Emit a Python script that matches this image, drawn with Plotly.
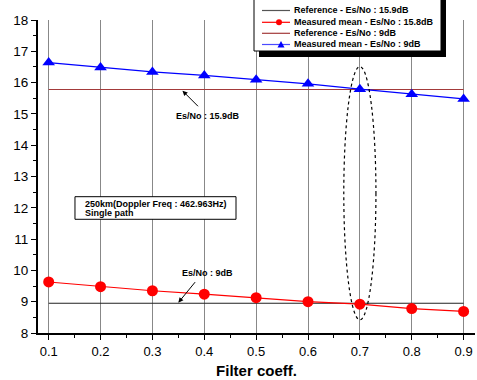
import plotly.graph_objects as go

# ---------------- data ----------------
filter_coeff = [0.1, 0.2, 0.3, 0.4, 0.5, 0.6, 0.7, 0.8, 0.9]
measured_high = [16.64, 16.48, 16.34, 16.23, 16.09, 15.96, 15.79, 15.63, 15.48]  # blue triangles
measured_low = [9.63, 9.48, 9.35, 9.24, 9.13, 9.00, 8.92, 8.78, 8.69]            # red circles
reference_high = [15.78] * len(filter_coeff)   # dark red line
reference_low = [8.95] * len(filter_coeff)     # black line

legend_labels = [
    "Reference - Es/No : 15.9dB",
    "Measured mean - Es/No : 15.8dB",
    "Reference - Es/No : 9dB",
    "Measured mean - Es/No : 9dB",
]

# ---------------- geometry ----------------
W, H = 477, 380
ML, MR, MT, MB = 38, 2, 20, 47
PW, PH = W - ML - MR, H - MT - MB
XR = [0.0794, 0.922]
YR = [8, 18]

def px(x):
    return (x - ML) / PW

def py(y):
    return (H - MB - y) / PH

FONT = "Liberation Sans, Arial, sans-serif"
BLUE = "#0000ff"
RED = "#ff0000"
DARKRED = "#a33a3a"
REFBLACK = "#222222"

fig = go.Figure()

fig.add_trace(go.Scatter(x=filter_coeff, y=reference_low, mode="lines",
                         line=dict(color=REFBLACK, width=1.2), name=legend_labels[0],
                         showlegend=False))
fig.add_trace(go.Scatter(x=filter_coeff, y=reference_high, mode="lines",
                         line=dict(color=DARKRED, width=1.2), name=legend_labels[2],
                         showlegend=False))
fig.add_trace(go.Scatter(x=filter_coeff, y=measured_low, mode="lines+markers",
                         line=dict(color=RED, width=1.2),
                         marker=dict(symbol="circle", size=11, color=RED),
                         name=legend_labels[1], showlegend=False))
fig.add_trace(go.Scatter(x=filter_coeff, y=measured_high, mode="lines+markers",
                         line=dict(color=BLUE, width=1.2),
                         marker=dict(symbol="triangle-up", size=11, color=BLUE),
                         name=legend_labels[3], showlegend=False))

shapes = []
annotations = []

# dotted ellipse around x = 0.7
shapes.append(dict(type="circle", xref="x", yref="y", x0=0.669, x1=0.731, y0=8.42, y1=16.51,
                   line=dict(color="black", width=1.2, dash="dot"), layer="above"))

# info box
shapes.append(dict(type="rect", xref="x", yref="y", x0=0.1507, x1=0.4612, y0=11.633, y1=12.355,
                   line=dict(color="black", width=1), fillcolor="white", layer="above"))
annotations.append(dict(xref="x", yref="y", x=0.1667, y=12.12, xanchor="left", yanchor="middle",
                        text="<b>250km(Doppler Freq : 462.963Hz)</b>", showarrow=False,
                        font=dict(family=FONT, size=9, color="black")))
annotations.append(dict(xref="x", yref="y", x=0.1667, y=11.82, xanchor="left", yanchor="middle",
                        text="<b>Single path</b>", showarrow=False,
                        font=dict(family=FONT, size=9, color="black")))

# arrows + labels
annotations.append(dict(xref="x", yref="y", x=0.358, y=15.74, ax=17, ay=17, text="",
                        showarrow=True, arrowhead=2, arrowsize=1, arrowwidth=1,
                        arrowcolor="black", standoff=0))
annotations.append(dict(xref="x", yref="y", x=0.408, y=14.94, text="<b>Es/No : 15.9dB</b>",
                        showarrow=False, font=dict(family=FONT, size=9, color="black")))
annotations.append(dict(xref="x", yref="y", x=0.35, y=8.97, ax=18, ay=-22, text="",
                        showarrow=True, arrowhead=2, arrowsize=1, arrowwidth=1,
                        arrowcolor="black", standoff=0))
annotations.append(dict(xref="x", yref="y", x=0.406, y=9.93, text="<b>Es/No : 9dB</b>",
                        showarrow=False, font=dict(family=FONT, size=9, color="black")))

# custom legend with shadow
bx0, bx1, by0, by1 = 254, 441, -10, 51
shapes.append(dict(type="rect", xref="paper", yref="paper",
                   x0=px(bx0 + 5), x1=px(bx1 + 5), y0=py(by1 + 6), y1=py(by0 + 5),
                   line=dict(width=0), fillcolor="black", layer="above"))
shapes.append(dict(type="rect", xref="paper", yref="paper",
                   x0=px(bx0), x1=px(bx1), y0=py(by1), y1=py(by0),
                   line=dict(color="black", width=1), fillcolor="white", layer="above"))
rows = [10.5, 22.3, 33.3, 44.5]
row_colors = ["#555555", RED, DARKRED, "#4a4aff"]
for i, (ry, col) in enumerate(zip(rows, row_colors)):
    shapes.append(dict(type="line", xref="paper", yref="paper",
                       x0=px(262), x1=px(290), y0=py(ry), y1=py(ry),
                       line=dict(color=col, width=1.2), layer="above"))
    annotations.append(dict(xref="paper", yref="paper", x=px(292), y=py(ry),
                            xanchor="left", yanchor="middle", text="<b>%s</b>" % legend_labels[i],
                            showarrow=False, font=dict(family=FONT, size=9, color="black")))
# legend markers
shapes.append(dict(type="circle", xref="paper", yref="paper", xsizemode="pixel", ysizemode="pixel",
                   xanchor=px(279), yanchor=py(rows[1]), x0=-3, x1=3, y0=-3, y1=3,
                   fillcolor=RED, line=dict(color=RED, width=0), layer="above"))
shapes.append(dict(type="path", xref="paper", yref="paper", xsizemode="pixel", ysizemode="pixel",
                   xanchor=px(281), yanchor=py(rows[3]), path="M -3.5,-3 L 3.5,-3 L 0,3.5 Z",
                   fillcolor=BLUE, line=dict(color=BLUE, width=0), layer="above"))

fig.update_layout(
    width=W, height=H,
    margin=dict(l=ML, r=MR, t=MT, b=MB, pad=0),
    paper_bgcolor="white", plot_bgcolor="white",
    font=dict(family=FONT, color="black"),
    showlegend=False,
    shapes=shapes,
    annotations=annotations,
    xaxis=dict(
        range=XR, tick0=0.1, dtick=0.1, tickformat=".1f",
        showgrid=True, gridcolor="#888888", gridwidth=1, zeroline=False,
        showline=True, linecolor="black", linewidth=2,
        ticks="outside", ticklen=5, tickwidth=1.2, tickcolor="black",
        minor=dict(ticks="outside", ticklen=3, tick0=0.05, dtick=0.05, tickcolor="black",
                   tickwidth=1, showgrid=False),
        tickfont=dict(family=FONT, size=13),
        title=dict(text="<b>Filter coeff.</b>", font=dict(family=FONT, size=15), standoff=8),
    ),
    yaxis=dict(
        range=YR, tick0=8, dtick=1,
        showgrid=False, zeroline=False,
        showline=True, linecolor="black", linewidth=2,
        ticks="outside", ticklen=5, tickwidth=1.2, tickcolor="black",
        minor=dict(ticks="outside", ticklen=3, dtick=0.5, tickcolor="black",
                   tickwidth=1, showgrid=False),
        tickfont=dict(family=FONT, size=13.5),
    ),
)

fig.write_html("out.html")
